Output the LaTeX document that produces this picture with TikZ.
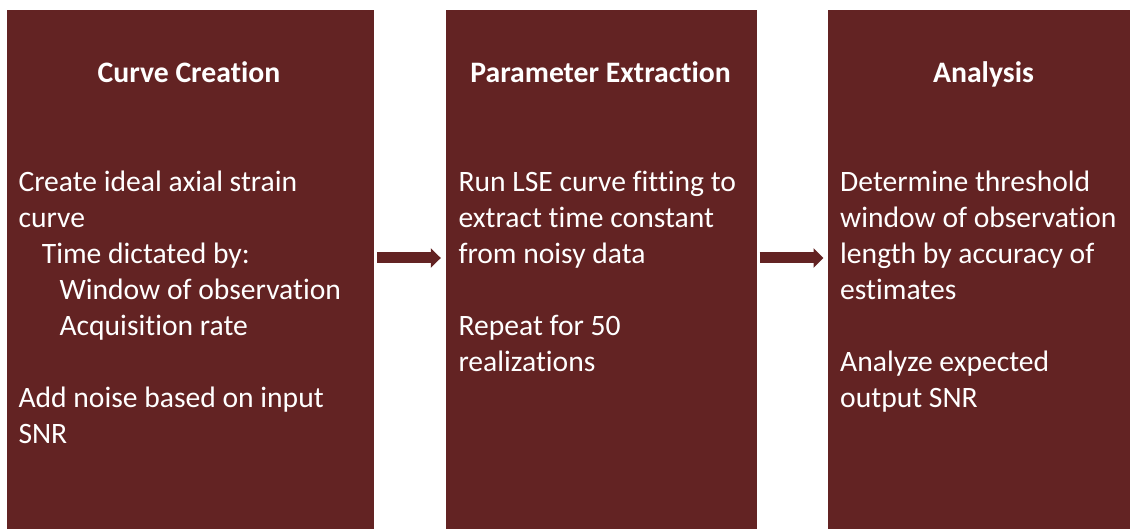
\documentclass[tikz,border=0pt]{standalone}
\usepackage{fontspec}
\setmainfont{Carlito}[Ligatures={NoCommon}]
\usetikzlibrary{arrows.meta}
\definecolor{wine}{RGB}{99,35,35}
\newcommand{\stagetext}[1]{\parbox[t]{400pt}{\raggedright #1}}
\begin{document}
\begin{tikzpicture}[x=1pt,y=-1pt,
  panel/.style={fill=wine, draw=none, inner sep=0pt, anchor=north west, minimum height=530pt},
  title/.style={text=white, font=\bfseries\fontsize{29.7}{36}\selectfont, anchor=base, inner sep=0pt},
  body/.style={text=white, font=\fontsize{29.6}{36}\selectfont, anchor=base west, inner sep=0pt},
  flow/.style={wine, line width=11pt, -{Triangle[length=10pt,width=19pt]}, shorten <=3pt, shorten >=4.5pt}]
  \useasboundingbox (0,0) rectangle (1130,529);
  \clip (0,0) rectangle (1130,529);

  % three stage panels
  \node[panel, minimum width=367pt] (p1) at (7,9.5) {};
  \node[panel, minimum width=311pt] (p2) at (445.3,9.5) {};
  \node[panel, minimum width=311pt] (p3) at (828,9.5) {};

  % stage headings
  \node[title] (t1) at (189,83) {Curve Creation};
  \node[title] (t2) at (600.6,83) {Parameter Extraction};
  \node[title] (t3) at (983.5,83) {Analysis};

  % stage descriptions
  \node[body] (b1) at (18.3,191.7) {\stagetext{Create ideal axial strain\\
    curve\\
    \hspace*{23.4pt}Time dictated by:\\
    \hspace*{41pt}Window of observation\\
    \hspace*{41pt}Acquisition rate\\[36pt]
    Add noise based on input\\
    SNR}};
  \node[body] (b2) at (458.3,191.7) {\stagetext{Run LSE curve fitting to\\
    extract time constant\\
    from noisy data\\[36pt]
    Repeat for 50\\
    realizations}};
  \node[body] (b3) at (840,191.7) {\stagetext{Determine threshold\\
    window of observation\\
    length by accuracy of\\
    estimates\\[36pt]
    Analyze expected\\
    output SNR}};

  % flow arrows between the panels
  \coordinate (mid) at (0,258);
  \draw[flow] (p1.east |- mid) -- (p2.west |- mid);
  \draw[flow] (p2.east |- mid) -- (p3.west |- mid);
\end{tikzpicture}
\end{document}
